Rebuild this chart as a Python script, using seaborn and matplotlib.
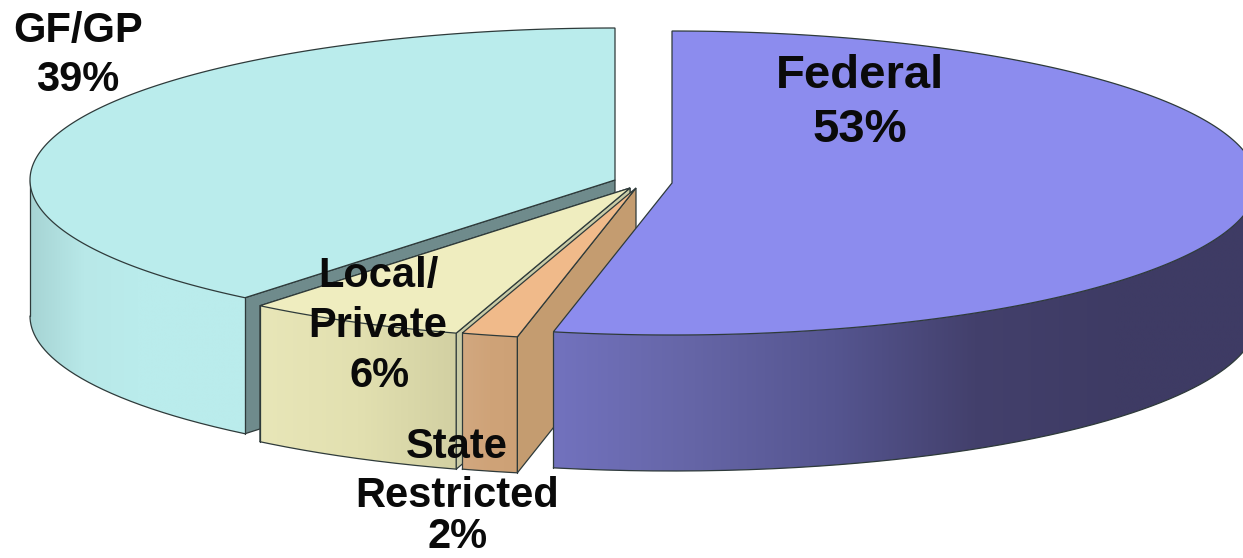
import numpy as np
import matplotlib
matplotlib.use("Agg")
import matplotlib.pyplot as plt
import seaborn as sns

# Budget shares, the labels show them rounded
sources = ["Federal", "State Restricted", "Local/Private", "GF/GP"]
shares = [53.25, 1.55, 6.1, 39.1]
share_labels = ["53%", "2%", "6%", "39%"]

# colours of the slices, wall colours run from left to right
top_colors = ["#8C8CEE", "#F0BA8A", "#EFEDBF", "#BAECEC"]
wall_stops = [["#7272BE", "#6565A6", "#555590", "#43406C", "#3E3B64", "#3E3B64"],
              ["#D2A880", "#CFA378", "#CDA176"],
              ["#E8E6B8", "#E2E0B0", "#D2D0A2"],
              ["#A6D4D4", "#B8E8E8", "#BAECEC", "#BAECEC", "#BAECEC"]]
face_colors = [None, "#C49C70", "#C9CBA6", "#6F8B8C"]

# each slice is pulled away a bit, centre of the top ellipse in pixels
centers = [(672, 183), (636, 188), (630, 188), (615, 180)]
rx, ry = 585, 152
depth = 136
edge = "#2E3A3A"

sns.set_theme(style="white")
plt.rcParams["font.family"] = ["Liberation Sans", "DejaVu Sans"]

fig = plt.figure(figsize=(12.43, 5.58), dpi=100)
ax = fig.add_axes([0, 0, 1, 1])


def rim(center, a, b, n=200):
    t = np.radians(np.linspace(a, b, n))
    return center[0] + rx * np.sin(t), center[1] - ry * np.cos(t)


def draw_wall(center, a, b, stops):
    # front wall, a left to right gradient clipped to the wall outline
    x, y = rim(center, a, b, 260)
    outline = ax.fill(np.r_[x, x[::-1]], np.r_[y, y[::-1] + depth],
                      facecolor="none", edgecolor="none")[0]
    cols = np.array(sns.blend_palette(stops, 256))[np.newaxis, :, :]
    img = ax.imshow(cols, extent=(x.min(), x.max(), y.max() + depth, y.min()),
                    aspect="auto", interpolation="bilinear")
    img.set_clip_path(outline)
    ax.plot(x, y + depth, color=edge, lw=0.9)
    ax.plot([x[0], x[0]], [y[0], y[0] + depth], color=edge, lw=0.9)
    ax.plot([x[-1], x[-1]], [y[-1], y[-1] + depth], color=edge, lw=0.9)


def draw_face(center, angle, color):
    # flat cut face going from the middle of the pie to the rim
    x, y = rim(center, angle, angle, 1)
    ax.fill([center[0], x[0], x[0], center[0]],
            [center[1], y[0], y[0] + depth, center[1] + depth],
            facecolor=color, edgecolor=edge, lw=0.9)


def draw_top(center, a, b, color):
    x, y = rim(center, a, b, 300)
    ax.fill(np.r_[center[0], x], np.r_[center[1], y],
            facecolor=color, edgecolor=edge, lw=0.9)


# slice limits in degrees, clockwise from twelve o'clock
edges = np.cumsum([0] + shares) / 100 * 360
fed, state, local, gf = 0, 1, 2, 3

# back to front so the nearer slices cover the others
draw_face(centers[gf], edges[3], face_colors[gf])
draw_wall(centers[gf], edges[3], 270, wall_stops[gf])
draw_top(centers[gf], edges[3], 360, top_colors[gf])

draw_face(centers[local], edges[3], top_colors[local])
draw_wall(centers[local], edges[2], edges[3], wall_stops[local])
draw_face(centers[local], edges[2], face_colors[local])
draw_top(centers[local], edges[2], edges[3], top_colors[local])

draw_wall(centers[state], edges[1], edges[2], wall_stops[state])
draw_face(centers[state], edges[1], face_colors[state])
draw_top(centers[state], edges[1], edges[2], top_colors[state])

draw_wall(centers[fed], 90, edges[1], wall_stops[fed])
draw_top(centers[fed], 0, edges[1], top_colors[fed])

# same zorder for everything so the order above decides the stacking
for n, art in enumerate(ax.get_children()):
    if art not in (ax.patch, ax.xaxis, ax.yaxis) and art not in ax.spines.values():
        art.set_zorder(2 + n * 0.001)

# labels
txt = dict(ha="center", va="center", fontweight="bold", color="#0A0A0A", zorder=5)
ax.text(860, 76, sources[0], fontsize=34, **txt)
ax.text(860, 130, share_labels[0], fontsize=34, **txt)
ax.text(78, 31, sources[3], fontsize=30, **txt)
ax.text(78, 80, share_labels[3], fontsize=30, **txt)
ax.text(378, 276, "Local/", fontsize=30, **txt)
ax.text(378, 326, "Private", fontsize=30, **txt)
ax.text(380, 376, share_labels[2], fontsize=30, **txt)
ax.text(457, 447, "State", fontsize=30, **txt)
ax.text(457, 496, "Restricted", fontsize=30, **txt)
ax.text(458, 537, share_labels[1], fontsize=30, **txt)

ax.set_xlim(0, 1243)
ax.set_ylim(558, 0)
ax.axis("off")

fig.savefig("out.png", dpi=100)
